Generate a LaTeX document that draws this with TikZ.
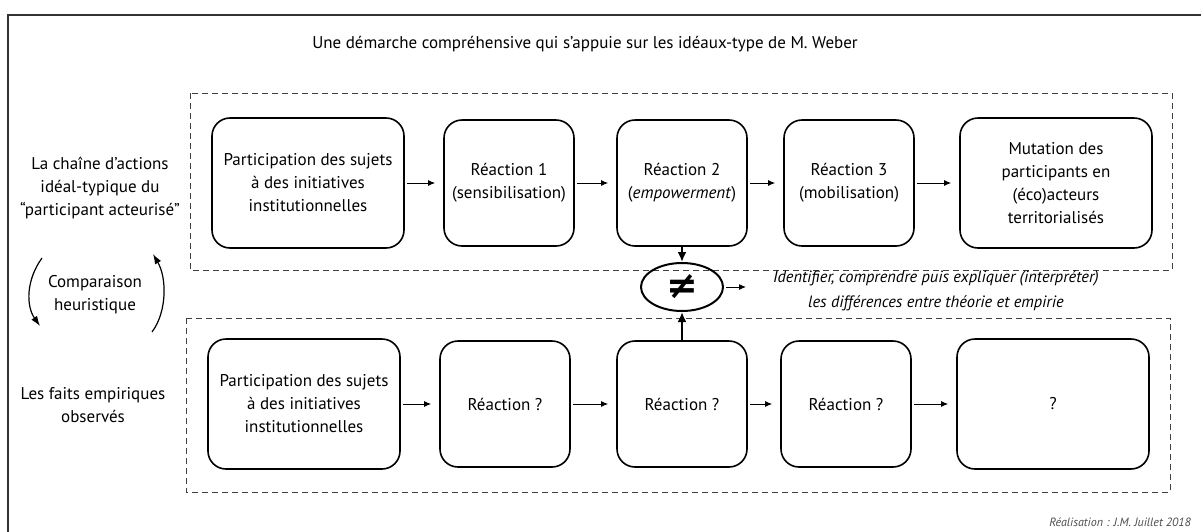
\documentclass[tikz,border=0pt]{standalone}
\usepackage{fontspec}
\setmainfont{PT Sans}
\newfontfamily\symbfont{DejaVu Sans}
\usetikzlibrary{shapes.geometric,arrows.meta}

\begin{document}
\begin{tikzpicture}[x=0.5pt, y=-0.5pt,
	etape/.style={draw, line width=0.8pt, rounded corners=9pt, align=center, inner sep=2pt, font=\fontsize{8.5}{11.5}\selectfont},
	large/.style={minimum width=96pt, minimum height=65pt},
	etroite/.style={minimum width=65pt, minimum height=63pt},
	cadre/.style={draw=black!75, dash pattern=on 3pt off 2pt, line width=0.5pt},
	fleche/.style={-{Latex[length=3.5pt,width=3pt]}, line width=0.5pt, shorten >=4pt, shorten <=1pt},
	grossefleche/.style={-{Latex[length=5pt,width=4.5pt]}, line width=1pt},
	courbe/.style={-{Latex[length=5pt,width=3.5pt]}, line width=0.6pt},
	legende/.style={align=center, font=\fontsize{8.5}{11.5}\selectfont},
	legendeit/.style={align=center, font=\itshape\fontsize{8.2}{12.5}\selectfont}]
				% Paths, nodes and frames:
				\useasboundingbox (0,0) rectangle (1201,531);
				\draw[line width=0.7pt, draw=black!80] (8,15) rectangle (1230,560);
				\node[legende] (titre) at (585,44) {Une démarche compréhensive qui s’appuie sur les idéaux-type de M. Weber};
				\draw[cadre] (190,93) rectangle (1172,270);
				\draw[cadre] (186,318) rectangle (1170,492);
				% ideal-type chain
				\node[etape, large] (p1) at (308,183) {Participation des sujets\\à des initiatives\\institutionnelles};
				\node[etape, etroite] (p2) at (509,183) {Réaction 1\\(sensibilisation)};
				\node[etape, etroite] (p3) at (682,183) {Réaction 2\\(\textit{empowerment})};
				\node[etape, etroite] (p4) at (849,183) {Réaction 3\\(mobilisation)};
				\node[etape, large] (p5) at (1056,183) {Mutation des\\participants en\\(éco)acteurs\\territorialisés};
				% observed facts
				\node[etape, large] (e1) at (304,404) {Participation des sujets\\à des initiatives\\institutionnelles};
				\node[etape, etroite] (e2) at (505,404) {Réaction ?};
				\node[etape, etroite] (e3) at (682,404) {Réaction ?};
				\node[etape, etroite] (e4) at (846,404) {Réaction ?};
				\node[etape, large] (e5) at (1053,404) {?};
				\foreach \a/\b in {p1/p2,p2/p3,p3/p4,p4/p5,e1/e2,e2/e3,e3/e4,e4/e5}
					\draw[fleche] (\a) -- (\b);
				% comparison
				\node[draw, ellipse, line width=1pt, minimum width=41pt, minimum height=24pt, inner sep=0pt] (neq) at (682,287) {\symbfont\bfseries\fontsize{19}{19}\selectfont ≠};
				\draw[grossefleche] (p3.south) -- (neq.north);
				\draw[grossefleche] (e3.north) -- (neq.south);
				\node[legendeit, anchor=west] (interp) at (766,291) {Identifier, comprendre puis expliquer (interpréter)\\les différences entre théorie et empirie};
				\draw[fleche, shorten >=10pt] (neq.east) -- (neq.east -| interp.west);
				% left labels
				\node[legende] (ideal) at (100,188) {La chaîne d’actions\\idéal-typique du\\“participant acteurisé”};
				\node[legende] (comp) at (95,295) {Comparaison\\heuristique};
				\node[legende] (faits) at (93,405) {Les faits empiriques\\observés};
				\coordinate (ga) at (42,258);
				\coordinate (gb) at (40,326);
				\coordinate (da) at (152,332);
				\coordinate (db) at (153,254);
				\draw[courbe] (ga) .. controls (26,280) and (26,306) .. (gb);
				\draw[courbe] (da) .. controls (167,312) and (167,278) .. (db);
				\node[anchor=east, text=black!70, font=\itshape\fontsize{6}{6}\selectfont] (credit) at (1198,522) {Réalisation : J.M. Juillet 2018};
			\end{tikzpicture}
\end{document}
